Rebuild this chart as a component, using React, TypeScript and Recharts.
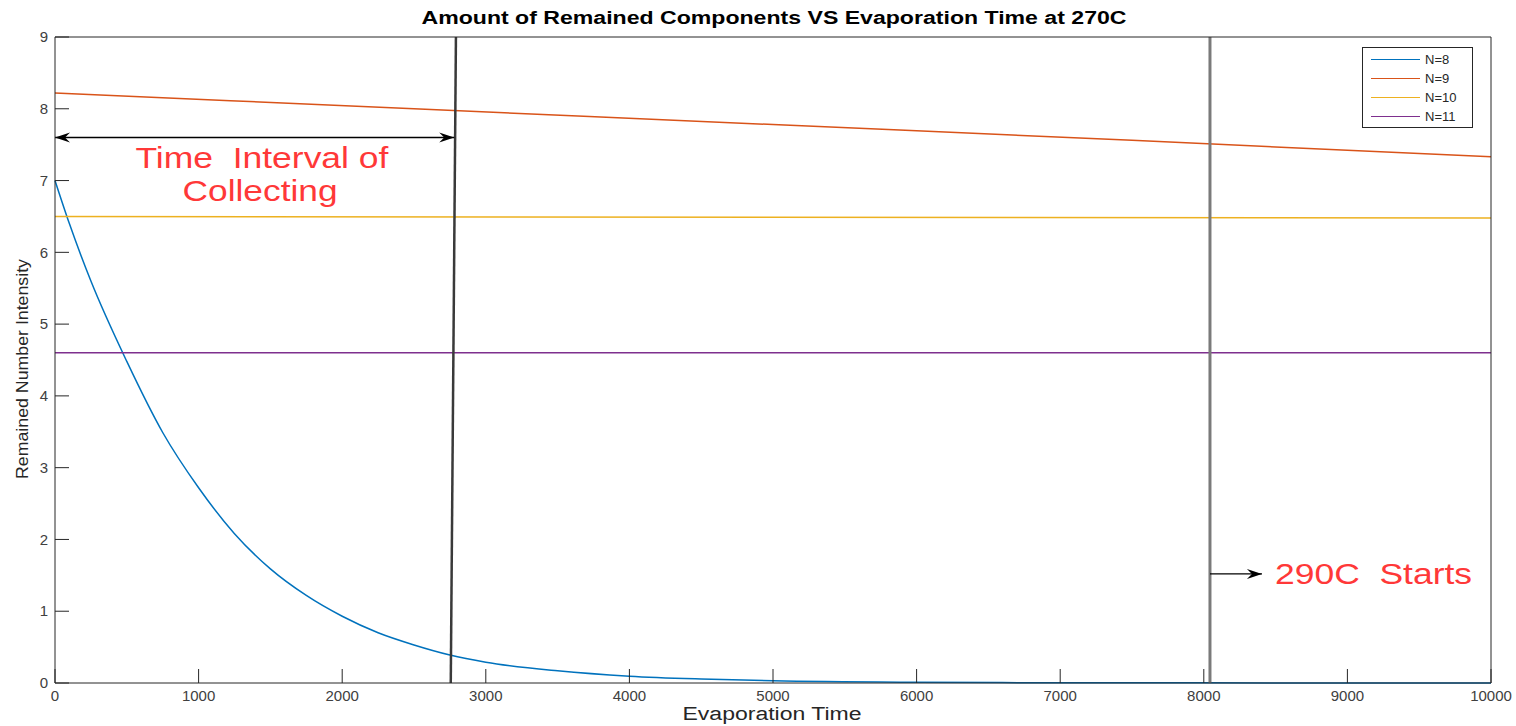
import {
  LineChart,
  Line,
  XAxis,
  YAxis,
  Legend,
  Label,
  ReferenceLine,
  ReferenceDot,
} from 'recharts'

// evaporation time samples and values
const TIME_N8 = [0, 100, 250, 500, 750, 1000, 1250, 1500, 1750, 2000, 2250, 2500, 2750, 3000, 3500, 4000, 4500, 5000, 6000, 7000, 8000, 9000, 10000]
const VALUES_N8 = [7.0, 6.4, 5.6, 4.48, 3.49, 2.72, 2.08, 1.59, 1.22, 0.93, 0.7, 0.53, 0.39, 0.29, 0.17, 0.095, 0.055, 0.03, 0.01, 0.004, 0.002, 0.001, 0.0005]
const TIME_N9 = [0, 2500, 5000, 7500, 10000]
const VALUES_N9 = [8.22, 8.0, 7.78, 7.56, 7.33]
const TIME_FLAT = [0, 10000]
const VALUES_N10 = [6.5, 6.48]
const VALUES_N11 = [4.6, 4.6]

const X_TICKS = [0, 1000, 2000, 3000, 4000, 5000, 6000, 7000, 8000, 9000, 10000]
const Y_TICKS = [0, 1, 2, 3, 4, 5, 6, 7, 8, 9]

// annotation anchors (data coordinates)
const COLLECT_START = 0
const COLLECT_END = 2780
const HEAT_START = 8043
const HEAT_ARROW_END = 8405

const FONT = '"Liberation Sans", Arial, Helvetica, sans-serif'
const AXIS = '#262626'
const TICK_TEXT = '#404040'
const RED = '#ff3838'
const TICK_LEN = 14

const zip = (ts: number[], vs: number[]) => ts.map((t, i) => ({ t, v: vs[i] }))

const series = [
  { name: 'N=8', color: '#0072BD', data: zip(TIME_N8, VALUES_N8) },
  { name: 'N=9', color: '#D95319', data: zip(TIME_N9, VALUES_N9) },
  { name: 'N=10', color: '#EDB120', data: zip(TIME_FLAT, VALUES_N10) },
  { name: 'N=11', color: '#7E2F8E', data: zip(TIME_FLAT, VALUES_N11) },
]

// matlab style ticks: pointing into the plot box
const BottomTick = (p: any) => {
  const axisY = p.y - 7
  return (
    <g>
      <line x1={p.x} y1={axisY} x2={p.x} y2={axisY - TICK_LEN} stroke={AXIS} />
      <text x={p.x} y={p.y} dy="0.71em" textAnchor="middle" fontSize={15} fontFamily={FONT} fill={TICK_TEXT}>
        {p.payload.value}
      </text>
    </g>
  )
}

const LeftTick = (p: any) => {
  const axisX = p.x + 7
  return (
    <g>
      <line x1={axisX} y1={p.y} x2={axisX + TICK_LEN} y2={p.y} stroke={AXIS} />
      <text x={p.x} y={p.y} dy="0.35em" textAnchor="end" fontSize={15} fontFamily={FONT} fill={TICK_TEXT}>
        {p.payload.value}
      </text>
    </g>
  )
}

const TopTick = (p: any) => (
  <line x1={p.x} y1={p.y} x2={p.x} y2={p.y + TICK_LEN} stroke={AXIS} />
)

const RightTick = (p: any) => (
  <line x1={p.x} y1={p.y} x2={p.x - TICK_LEN} y2={p.y} stroke={AXIS} />
)

function arrowShape(both: boolean) {
  return (p: any) => {
    const { x1, y1, x2, y2 } = p
    const head = (x: number, y: number, dir: number) =>
      `M${x},${y} L${x - dir * 15},${y - 5} L${x - dir * 10},${y} L${x - dir * 15},${y + 5} Z`
    return (
      <g>
        <line x1={x1} y1={y1} x2={x2} y2={y2} stroke="#000" strokeWidth={1.4} />
        <path d={head(x2, y2, 1)} fill="#000" />
        {both && <path d={head(x1, y1, -1)} fill="#000" />}
      </g>
    )
  }
}

function noteShape(text: string, anchor: 'start' | 'middle', length: number) {
  return (p: any) => (
    <text
      x={p.cx}
      y={p.cy}
      dy="0.35em"
      textAnchor={anchor}
      fill={RED}
      fontSize={29}
      fontFamily={FONT}
      textLength={length}
      lengthAdjust="spacingAndGlyphs"
      style={{ whiteSpace: 'pre' }}
    >
      {text}
    </text>
  )
}

function renderLegend() {
  return (
    <div
      style={{
        width: 111,
        height: 81,
        boxSizing: 'border-box',
        border: `1px solid ${AXIS}`,
        background: '#fff',
        padding: '2px 0 0 8px',
        fontFamily: FONT,
        fontSize: 13,
        color: AXIS,
      }}
    >
      {series.map((s) => (
        <div key={s.name} style={{ display: 'flex', alignItems: 'center', height: 19 }}>
          <span style={{ width: 49, height: 1.5, background: s.color, marginRight: 5 }} />
          <span>{s.name}</span>
        </div>
      ))}
    </div>
  )
}

export default function App() {
  return (
    <div style={{ position: 'absolute', left: 0, top: 0, width: 1516, height: 726, background: '#fff' }}>
      <LineChart width={1516} height={726} margin={{ top: 36, right: 24, bottom: 0, left: 0 }}>
        <XAxis
          xAxisId="b"
          dataKey="t"
          type="number"
          domain={[0, 10000]}
          ticks={X_TICKS}
          interval={0}
          height={43}
          tickSize={0}
          tickMargin={7}
          tickLine={false}
          stroke={AXIS}
          tick={BottomTick}
        >
          <Label
            content={() => (
              <text
                x={772}
                y={720}
                textAnchor="middle"
                fontSize={18}
                fontFamily={FONT}
                fill={AXIS}
                textLength={179}
                lengthAdjust="spacingAndGlyphs"
              >
                Evaporation Time
              </text>
            )}
          />
        </XAxis>
        <XAxis
          xAxisId="t"
          orientation="top"
          type="number"
          domain={[0, 10000]}
          ticks={X_TICKS}
          interval={0}
          height={1}
          tickSize={0}
          tickMargin={0}
          tickLine={false}
          stroke={AXIS}
          tick={TopTick}
        >
          <Label
            content={() => (
              <text
                x={774}
                y={24}
                textAnchor="middle"
                fontSize={18}
                fontWeight="bold"
                fontFamily={FONT}
                fill="#000"
                textLength={705}
                lengthAdjust="spacingAndGlyphs"
              >
                Amount of Remained Components VS Evaporation Time at 270C
              </text>
            )}
          />
        </XAxis>
        <YAxis
          yAxisId="l"
          type="number"
          domain={[0, 9]}
          ticks={Y_TICKS}
          interval={0}
          width={55}
          tickSize={0}
          tickMargin={7}
          tickLine={false}
          stroke={AXIS}
          tick={LeftTick}
        >
          <Label
            content={() => (
              <text
                x={22}
                y={369}
                dy="0.35em"
                transform="rotate(-90, 22, 369)"
                textAnchor="middle"
                fontSize={17}
                fontFamily={FONT}
                fill={AXIS}
                textLength={220}
                lengthAdjust="spacingAndGlyphs"
              >
                Remained Number Intensity
              </text>
            )}
          />
        </YAxis>
        <YAxis
          yAxisId="r"
          orientation="right"
          type="number"
          domain={[0, 9]}
          ticks={Y_TICKS}
          interval={0}
          width={1}
          tickSize={0}
          tickMargin={0}
          tickLine={false}
          stroke={AXIS}
          tick={RightTick}
        />

        {series.map((s) => (
          <Line
            key={s.name}
            xAxisId="b"
            yAxisId="l"
            data={s.data}
            dataKey="v"
            name={s.name}
            type="monotone"
            stroke={s.color}
            strokeWidth={1.5}
            dot={false}
            isAnimationActive={false}
          />
        ))}

        {/* vertical markers */}
        <ReferenceLine
          xAxisId="b"
          yAxisId="l"
          segment={[{ x: 2792, y: 9 }, { x: 2756, y: 0 }]}
          stroke="#3a3a3a"
          strokeWidth={2.5}
        />
        <ReferenceLine
          xAxisId="b"
          yAxisId="l"
          segment={[{ x: HEAT_START, y: 9 }, { x: HEAT_START, y: 0 }]}
          stroke="#7a7a7a"
          strokeWidth={3}
        />

        {/* arrows */}
        <ReferenceLine
          xAxisId="b"
          yAxisId="l"
          segment={[{ x: COLLECT_START, y: 7.6 }, { x: COLLECT_END, y: 7.6 }]}
          shape={arrowShape(true)}
        />
        <ReferenceLine
          xAxisId="b"
          yAxisId="l"
          segment={[{ x: HEAT_START, y: 1.52 }, { x: HEAT_ARROW_END, y: 1.52 }]}
          shape={arrowShape(false)}
        />

        {/* annotation text */}
        <ReferenceDot xAxisId="b" yAxisId="l" x={1441} y={7.32} r={0} shape={noteShape('Time  Interval of', 'middle', 253)} />
        <ReferenceDot xAxisId="b" yAxisId="l" x={1428} y={6.86} r={0} shape={noteShape('Collecting', 'middle', 155)} />
        <ReferenceDot xAxisId="b" yAxisId="l" x={8496} y={1.52} r={0} shape={noteShape('290C  Starts', 'start', 197)} />

        <Legend
          layout="vertical"
          align="center"
          verticalAlign="middle"
          content={renderLegend}
          wrapperStyle={{ top: 47, left: 1362, width: 111, height: 81 }}
        />
      </LineChart>
    </div>
  )
}
